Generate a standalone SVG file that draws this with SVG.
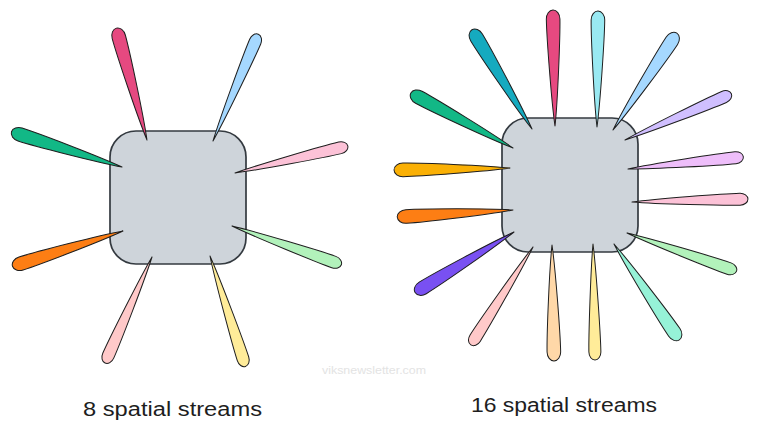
<svg xmlns="http://www.w3.org/2000/svg" xmlns:xlink="http://www.w3.org/1999/xlink" width="759" height="431" viewBox="0 0 759 431">
<style>
.box{fill:#ced4da;stroke:#343a40;stroke-width:1.7}
.petal{stroke:#1e1e1e;stroke-width:1;stroke-linejoin:round}
.label{font-family:"Liberation Sans",Arial,sans-serif;font-size:20px;fill:#1e1e1e}
.wm{font-family:"Liberation Sans",Arial,sans-serif;font-size:10px;fill:#e3e3e3}
</style>
<defs>
<path id="p7" d="M0,0 C25,-3.2 90,-6.8 107,-6.8 A9,6.8 0 0 1 107,6.8 C90,6.8 25,3.2 0,0Z"/>
<path id="p6" d="M0,0 C25,-2.8 92,-6 108,-6 A8,6 0 0 1 108,6 C92,6 25,2.8 0,0Z"/>
</defs>
<rect width="759" height="431" fill="#ffffff"/>
<g id="ap8">
<rect class="box" x="110" y="131" width="136" height="133" rx="26"/>
</g>
<g id="streams8">
<use class="petal" href="#p7" transform="translate(147,140) rotate(-105.3)" fill="#e64980"/>
<use class="petal" href="#p6" transform="translate(213,141) rotate(-67)" fill="#a5d8ff"/>
<use class="petal" href="#p7" transform="translate(122,167) rotate(-162.3)" fill="#12b886"/>
<use class="petal" href="#p6" transform="translate(235,173) rotate(-13.5)" fill="#fcc2d7"/>
<use class="petal" href="#p7" transform="translate(123,231) rotate(162.3)" fill="#fd7e14"/>
<use class="petal" href="#p6" transform="translate(232,226) rotate(19.5)" fill="#b2f2bb"/>
<use class="petal" href="#p6" transform="translate(152,257) rotate(113.9)" fill="#ffc9c9"/>
<use class="petal" href="#p6" transform="translate(210,256) rotate(72.2)" fill="#ffec99"/>
</g>
<g id="ap16">
<rect class="box" x="502" y="118" width="136" height="134" rx="26"/>
</g>
<g id="streams16">
<use class="petal" href="#p7" transform="translate(532,129) rotate(-121.2)" fill="#15aabf"/>
<use class="petal" href="#p7" transform="translate(555,126) rotate(-91)" fill="#e64980"/>
<use class="petal" href="#p7" transform="translate(597,127) rotate(-89.5)" fill="#99e9f2"/>
<use class="petal" href="#p7" transform="translate(613,130) rotate(-56.6)" fill="#a5d8ff"/>
<use class="petal" href="#p6" transform="translate(625,140) rotate(-23.5)" fill="#d0bfff"/>
<use class="petal" href="#p6" transform="translate(628,169) rotate(-6)" fill="#eebefa"/>
<use class="petal" href="#p6" transform="translate(632,202) rotate(-1.5)" fill="#fcc2d7"/>
<use class="petal" href="#p6" transform="translate(627,233) rotate(19.2)" fill="#b2f2bb"/>
<use class="petal" href="#p7" transform="translate(614,244) rotate(55.7)" fill="#96f2d7"/>
<use class="petal" href="#p6" transform="translate(593,244) rotate(89)" fill="#ffec99"/>
<use class="petal" href="#p7" transform="translate(552,245) rotate(89)" fill="#ffd8a8"/>
<use class="petal" href="#p6" transform="translate(533,247) rotate(122.4)" fill="#ffc9c9"/>
<use class="petal" href="#p7" transform="translate(514,232) rotate(148.5)" fill="#7950f2"/>
<use class="petal" href="#p7" transform="translate(513,210) rotate(176.5)" fill="#fd7e14"/>
<use class="petal" href="#p7" transform="translate(510,168) rotate(179)" fill="#fab005"/>
<use class="petal" href="#p7" transform="translate(513,148) rotate(-151.7)" fill="#12b886"/>
</g>
<text class="wm" x="322" y="374" textLength="104" lengthAdjust="spacingAndGlyphs">viksnewsletter.com</text>
<text class="label" x="83" y="416" textLength="179" lengthAdjust="spacingAndGlyphs">8 spatial streams</text>
<text class="label" x="471" y="412" textLength="186" lengthAdjust="spacingAndGlyphs">16 spatial streams</text>
</svg>
